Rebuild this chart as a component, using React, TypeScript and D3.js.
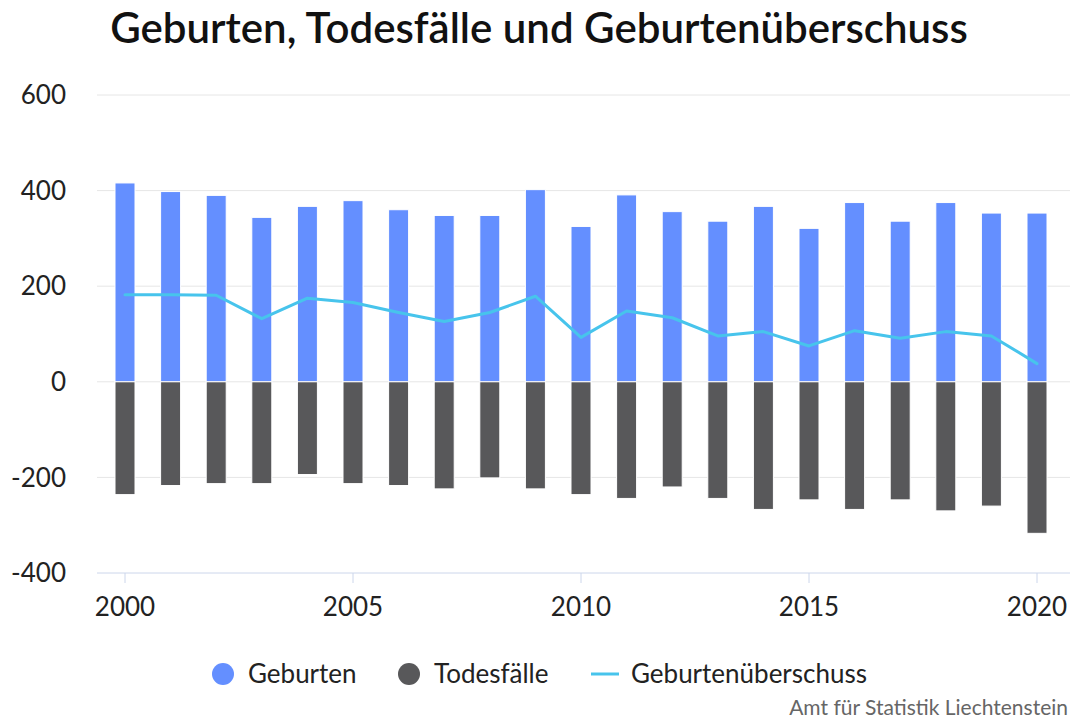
import React from "react";
import * as d3 from "d3";

const years = d3.range(2000, 2021);
const geburten = [416, 398, 390, 344, 367, 379, 360, 348, 348, 402, 325, 391, 356, 336, 367, 321, 375, 336, 375, 353, 353];
const todesfaelle = [-236, -217, -213, -213, -194, -213, -217, -224, -201, -224, -236, -244, -220, -244, -267, -247, -267, -247, -270, -260, -317];
const ueberschuss = [182, 182, 181, 132, 175, 166, 145, 126, 145, 179, 93, 148, 134, 96, 105, 75, 107, 91, 105, 96, 38];
const yTicks = [600, 400, 200, 0, -200, -400];
const xTicks = [2000, 2005, 2010, 2015, 2020];

const W = 1078, H = 720;
const plotLeft = 97, plotRight = 1070;
const FONT = "Lato, 'Open Sans', sans-serif";

export default function App() {
  const x = d3.scaleLinear().domain([2000, 2020]).range([125, 1037]);
  const y = d3.scaleLinear().domain([-400, 600]).range([573, 95]);
  const bw = 20;
  const line = d3.line<number>().x((_, i) => x(years[i])).y((d) => y(d));
  const blue = "#648fff", dark = "#58585a", cyan = "#47c4ec";
  return (
    <svg width={W} height={H} style={{ position: "absolute", left: 0, top: 0, background: "#fff" }} fontFamily={FONT}>
      <text x={W / 2} y={43} textAnchor="middle" fontSize={42} fontWeight={600} fill="#111">
        Geburten, Todesfälle und Geburtenüberschuss
      </text>
      {yTicks.map((t) => (
        <g key={t}>
          {t !== -400 && <line x1={plotLeft} x2={plotRight} y1={y(t)} y2={y(t)} stroke="#e6e6e6" strokeWidth={1} />}
          <text x={66} y={y(t)} dy="0.35em" textAnchor="end" fontSize={26} fill="#222">{t}</text>
        </g>
      ))}
      <line x1={plotLeft} x2={plotRight} y1={y(-400)} y2={y(-400)} stroke="#ccd6eb" strokeWidth={1} />
      {xTicks.map((t) => (
        <g key={t}>
          <line x1={x(t)} x2={x(t)} y1={y(-400)} y2={y(-400) + 10} stroke="#ccd6eb" strokeWidth={1} />
          <text x={x(t)} y={607} dy="0.35em" textAnchor="middle" fontSize={26} fill="#222">{t}</text>
        </g>
      ))}
      {years.map((yr, i) => (
        <g key={yr}>
          <rect x={x(yr) - bw / 2} y={y(geburten[i])} width={bw} height={y(0) - y(geburten[i])} fill={blue} stroke="#fff" strokeWidth={1} />
          <rect x={x(yr) - bw / 2} y={y(0)} width={bw} height={y(todesfaelle[i]) - y(0)} fill={dark} stroke="#fff" strokeWidth={1} />
        </g>
      ))}
      <path d={line(ueberschuss) || ""} fill="none" stroke={cyan} strokeWidth={3} strokeLinejoin="round" strokeLinecap="round" />
      <g fontSize={26} fill="#222">
        <circle cx={223} cy={674} r={11} fill={blue} />
        <text x={248} y={674} dy="0.35em">Geburten</text>
        <circle cx={409} cy={674} r={11} fill={dark} />
        <text x={434} y={674} dy="0.35em">Todesfälle</text>
        <line x1={591} x2={619} y1={674} y2={674} stroke={cyan} strokeWidth={3} />
        <text x={631} y={674} dy="0.35em">Geburtenüberschuss</text>
      </g>
      <text x={1068} y={708} dy="0.35em" textAnchor="end" fontSize={21} fill="#666">Amt für Statistik Liechtenstein</text>
    </svg>
  );
}
